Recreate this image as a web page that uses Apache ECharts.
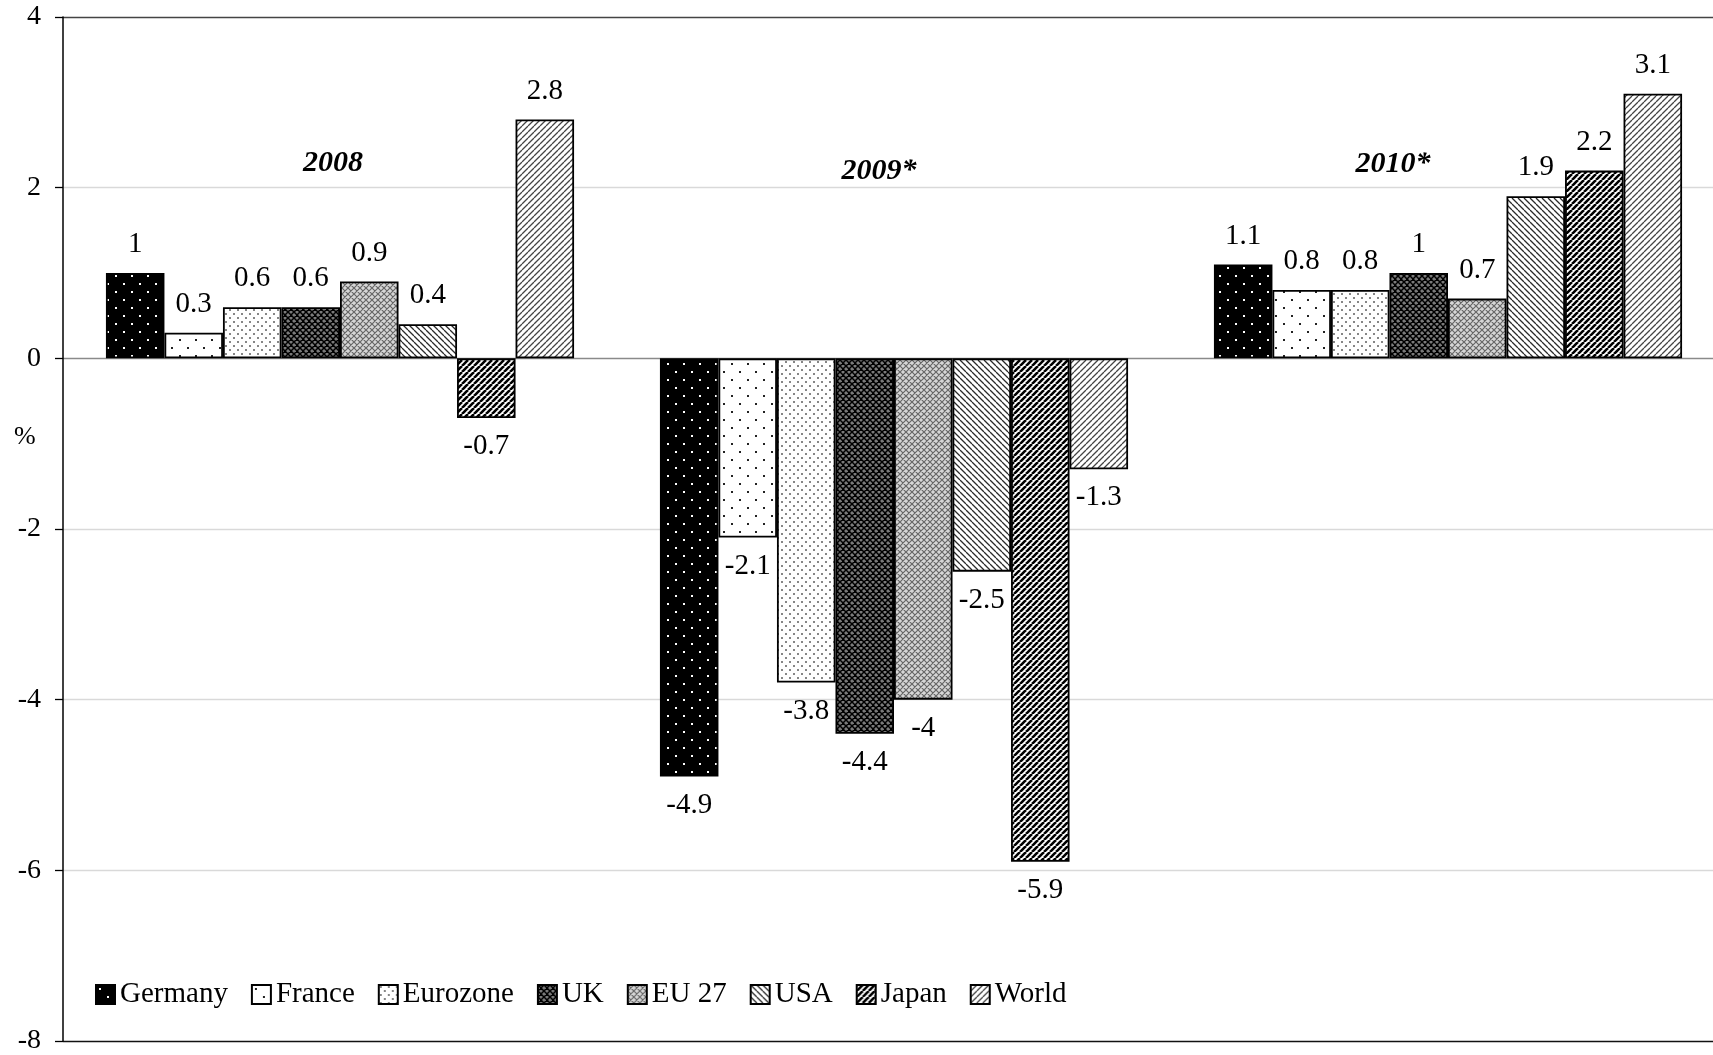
<!DOCTYPE html>
<html>
<head>
<meta charset="utf-8">
<script src="https://cdn.jsdelivr.net/npm/echarts@6/dist/echarts.min.js"></script>
<style>
html,body{margin:0;padding:0;background:#fff;overflow:hidden;}
#chart{width:1730px;height:1055px;}
</style>
</head>
<body>
<div id="chart"></div>
<script>
// ---- data ----
const years = ['2008', '2009*', '2010*'];
const countries = ['Germany', 'France', 'Eurozone', 'UK', 'EU 27', 'USA', 'Japan', 'World'];
const germany  = [1, -4.9, 1.1];
const france   = [0.3, -2.1, 0.8];
const eurozone = [0.6, -3.8, 0.8];
const uk       = [0.6, -4.4, 1];
const eu27     = [0.9, -4, 0.7];
const usa      = [0.4, -2.5, 1.9];
const japan    = [-0.7, -5.9, 2.2];
const world    = [2.8, -1.3, 3.1];
const yTicks   = { min: -8, max: 4, interval: 2 };

const seriesValues = [germany, france, eurozone, uk, eu27, usa, japan, world];

// ---- patterns ----
function tile(w, h, draw) {
  const c = document.createElement('canvas');
  c.width = w; c.height = h;
  const g = c.getContext('2d');
  draw(g, w, h);
  return { image: c, repeat: 'repeat' };
}
function dots(bg, fg, s, r) {
  return tile(s, s, (g) => {
    g.fillStyle = bg; g.fillRect(0, 0, s, s);
    g.fillStyle = fg;
    g.fillRect(s / 4 - r / 2, s / 4 - r / 2, r, r);
    g.fillRect(3 * s / 4 - r / 2, 3 * s / 4 - r / 2, r, r);
  });
}
function diag(bg, fg, s, lw, dir) {
  return tile(s, s, (g) => {
    g.fillStyle = bg; g.fillRect(0, 0, s, s);
    g.strokeStyle = fg; g.lineWidth = lw;
    g.beginPath();
    for (let k = -1; k <= 1; k++) {
      if (dir === '/') { g.moveTo(k * s, s); g.lineTo(k * s + s, 0); }
      else { g.moveTo(k * s, 0); g.lineTo(k * s + s, s); }
    }
    g.stroke();
  });
}
function cross(bg, fg, s, lw, center) {
  return tile(s, s, (g) => {
    g.fillStyle = bg; g.fillRect(0, 0, s, s);
    g.strokeStyle = fg; g.lineWidth = lw;
    g.beginPath();
    for (let k = -1; k <= 1; k++) {
      g.moveTo(k * s, s); g.lineTo(k * s + s, 0);
      g.moveTo(k * s, 0); g.lineTo(k * s + s, s);
    }
    g.stroke();
    if (center) { g.fillStyle = center; g.fillRect(s / 2 - 1, s / 2 - 1, 2, 2); g.fillRect(0, 0, 1, 1); }
  });
}
const patterns = [
  dots('#000000', '#ffffff', 16, 2),
  dots('#ffffff', '#222222', 16, 2),
  dots('#ffffff', '#444444', 8, 1.6),
  cross('#7a7a7a', '#000000', 6, 1.5, '#000'),
  cross('#d6d6d6', '#666666', 6, 1.2, null),
  diag('#ffffff', '#2a2a2a', 6, 1.3, '\\'),
  diag('#ffffff', '#000000', 6, 2.6, '/'),
  diag('#ffffff', '#444444', 6, 1.3, '/')
];

const FONT = '"Liberation Serif", "Times New Roman", serif';

const series = countries.map((name, i) => ({
  name: name,
  type: 'bar',
  barGap: 0,
  barCategoryGap: '15.5%',
  itemStyle: { color: patterns[i], borderColor: '#000', borderWidth: 1.8 },
  label: {
    show: true, fontFamily: FONT, fontSize: 29, color: '#000', distance: 14
  },
  emphasis: { disabled: true },
  data: seriesValues[i].map(v => ({
    value: v,
    label: { position: v < 0 ? 'bottom' : 'top' }
  }))
}));

const chart = echarts.init(document.getElementById('chart'), null, { renderer: 'canvas' });
chart.setOption({
  animation: false,
  backgroundColor: '#ffffff',
  grid: { left: 63, right: 5, top: 17, bottom: 11, containLabel: false },
  legend: {
    data: countries,
    icon: 'rect',
    left: 90, top: 975,
    itemWidth: 19, itemHeight: 19, itemGap: 23,
    textStyle: { fontFamily: FONT, fontSize: 29, color: '#000' },
    selectedMode: false
  },
  xAxis: {
    type: 'category',
    data: years,
    axisLine: { show: false },
    axisTick: { show: false },
    axisLabel: { show: false },
    splitLine: { show: false }
  },
  yAxis: {
    type: 'value',
    min: yTicks.min, max: yTicks.max, interval: yTicks.interval,
    axisLine: { show: true, lineStyle: { color: '#000', width: 1.5 } },
    axisTick: { show: true, inside: false, length: 8, lineStyle: { color: '#000', width: 1.3 } },
    axisLabel: { fontFamily: FONT, fontSize: 28, color: '#000', margin: 22 },
    splitLine: {
      show: true,
      lineStyle: { color: ['#111111', '#d9d9d9', '#d9d9d9', '#d9d9d9', '#8a8a8a', '#d9d9d9', '#444444'], width: 1.3 }
    }
  },
  graphic: [
    { type: 'text', left: 14, top: 424, style: { text: '%', font: '26px ' + FONT, fill: '#000' } },
    { type: 'text', x: 333, y: 163, style: { text: years[0], font: 'italic bold 30px ' + FONT, fill: '#000', align: 'center', verticalAlign: 'middle' } },
    { type: 'text', x: 879, y: 171, style: { text: years[1], font: 'italic bold 30px ' + FONT, fill: '#000', align: 'center', verticalAlign: 'middle' } },
    { type: 'text', x: 1393, y: 164, style: { text: years[2], font: 'italic bold 30px ' + FONT, fill: '#000', align: 'center', verticalAlign: 'middle' } }
  ],
  series: series
});
</script>
</body>
</html>
